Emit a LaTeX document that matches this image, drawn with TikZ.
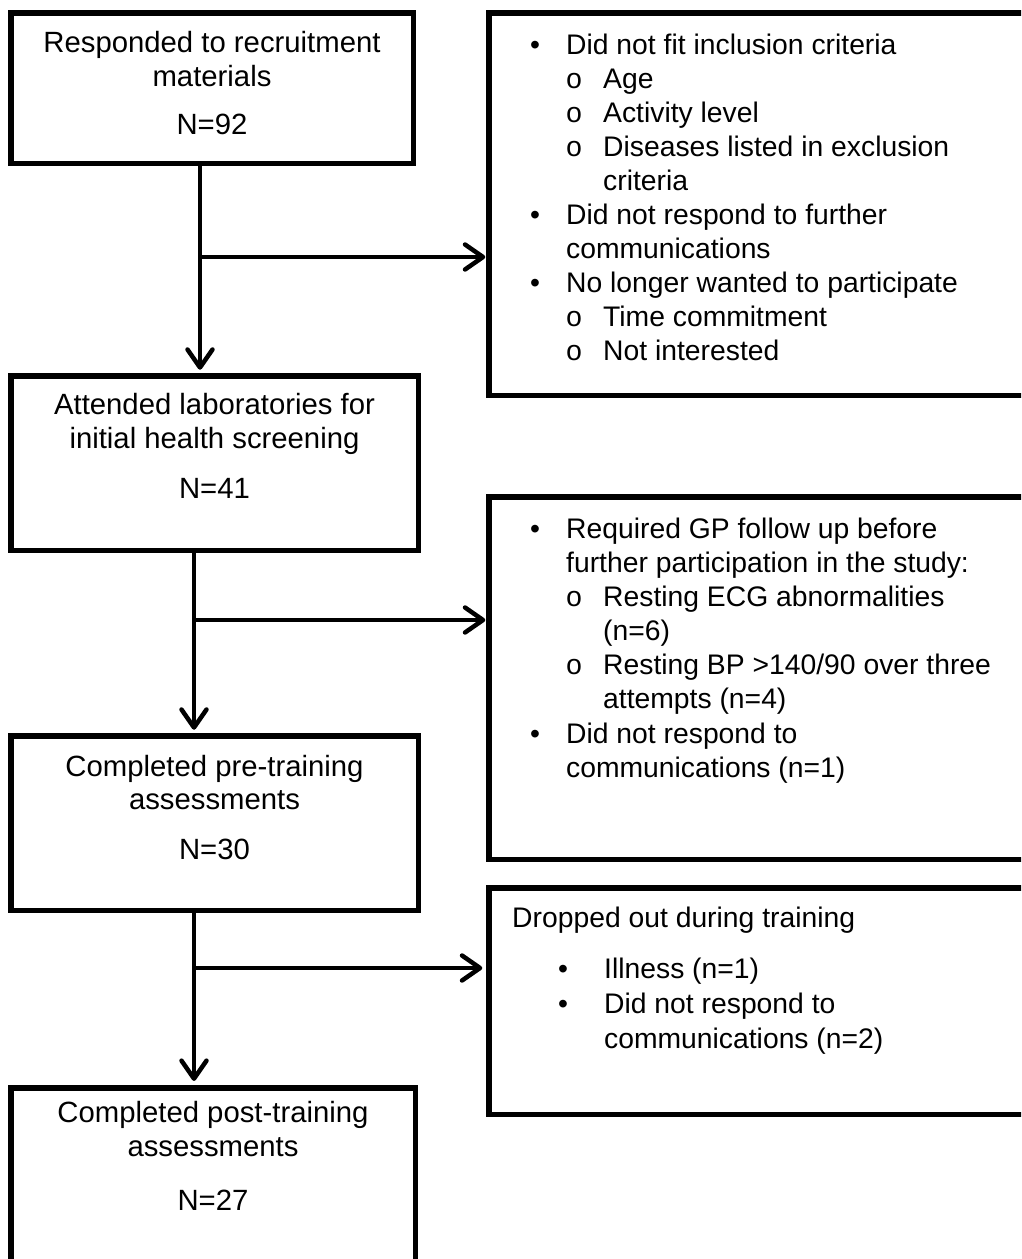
\documentclass[tikz,border=0pt]{standalone}
\usepackage{fontspec}
\setmainfont{Liberation Sans}
\newfontfamily\monofnt{Liberation Mono}
\usetikzlibrary{arrows.meta}
\begin{document}
\begin{tikzpicture}[x=1pt,y=-1pt,
  box/.style={draw, line width=5.5pt, rectangle, inner sep=0pt, outer sep=0pt},
  ctxt/.style={anchor=base, inner sep=0pt, font=\fontsize{29.3}{35}\selectfont},
  ltxt/.style={anchor=base west, inner sep=0pt, font=\fontsize{28.3}{34}\selectfont},
  bul/.style={anchor=base, inner sep=0pt, font=\fontsize{28.3}{34}\selectfont},
  sbul/.style={anchor=base, inner sep=0pt, font=\monofnt\fontsize{28.3}{34}\selectfont},
  arr/.style={line width=4.5pt, -{Straight Barb[length=18pt,width=25pt,round]}}
]
\useasboundingbox (0,0) rectangle (1021,1259);
\fill[white] (0,0) rectangle (1021,1259);
\clip (0,0) rectangle (1021,1259);

% left boxes
\node[box, minimum width=402.5pt, minimum height=150.5pt] (A) at (212,88) {};
\node[box, minimum width=407.5pt, minimum height=174.5pt] (B) at (214.5,463) {};
\node[box, minimum width=407.5pt, minimum height=174.5pt] (C) at (214.5,823) {};
\node[box, minimum width=404.5pt, minimum height=177pt] (D) at (213,1176.4) {};
% right boxes
\node[box, minimum width=541.25pt, minimum height=382.5pt] (R1) at (759.4,204) {};
\node[box, minimum width=541.25pt, minimum height=362.5pt] (R2) at (759.4,678) {};
\node[box, minimum width=541.25pt, minimum height=226.5pt] (R3) at (759.4,1001) {};

% connectors
\coordinate (xA) at (200,0);
\coordinate (xB) at (194,0);
\coordinate (jA) at (200,257);
\coordinate (jB) at (194,620);
\coordinate (jC) at (194,968);
\draw[arr, shorten >=6pt] (A.south -| xA) -- (B.north -| xA);
\draw[arr, shorten >=3.5pt] (jA) -- (R1.west |- jA);
\draw[arr, shorten >=6pt] (B.south -| xB) -- (C.north -| xB);
\draw[arr, shorten >=3.5pt] (jB) -- (R2.west |- jB);
\draw[arr, shorten >=7pt] (C.south -| xB) -- (D.north -| xB);
\draw[arr, shorten >=6.5pt] (jC) -- (R3.west |- jC);

% left texts
\node[ctxt] (tA1) at (212,52) {Responded to recruitment};
\node[ctxt] (tA2) at (212,86) {materials};
\node[ctxt] (tA3) at (212,134) {N=92};
\node[ctxt] (tB1) at (214.5,414) {Attended laboratories for};
\node[ctxt] (tB2) at (214.5,448) {initial health screening};
\node[ctxt] (tB3) at (214.5,498) {N=41};
\node[ctxt] (tC1) at (214.5,776) {Completed pre-training};
\node[ctxt] (tC2) at (214.5,809) {assessments};
\node[ctxt] (tC3) at (214.5,859) {N=30};
\node[ctxt] (tD1) at (213,1122) {Completed post-training};
\node[ctxt] (tD2) at (213,1156) {assessments};
\node[ctxt] (tD3) at (213,1210) {N=27};

% right box 1
\node[bul] (b11) at (535,54) {•};
\node[ltxt] (r11) at (566,54) {Did not fit inclusion criteria};
\node[sbul] (s12) at (574,88) {o};
\node[ltxt] (r12) at (603,88) {Age};
\node[sbul] (s13) at (574,122) {o};
\node[ltxt] (r13) at (603,122) {Activity level};
\node[sbul] (s14) at (574,156) {o};
\node[ltxt] (r14) at (603,156) {Diseases listed in exclusion};
\node[ltxt] (r15) at (603,190) {criteria};
\node[bul] (b16) at (535,224) {•};
\node[ltxt] (r16) at (566,224) {Did not respond to further};
\node[ltxt] (r17) at (566,258) {communications};
\node[bul] (b18) at (535,292) {•};
\node[ltxt] (r18) at (566,292) {No longer wanted to participate};
\node[sbul] (s19) at (574,326) {o};
\node[ltxt] (r19) at (603,326) {Time commitment};
\node[sbul] (s110) at (574,360) {o};
\node[ltxt] (r110) at (603,360) {Not interested};

% right box 2
\node[bul] (b21) at (535,538) {•};
\node[ltxt] (r21) at (566,538) {Required GP follow up before};
\node[ltxt] (r22) at (566,572) {further participation in the study:};
\node[sbul] (s23) at (574,606) {o};
\node[ltxt] (r23) at (603,606) {Resting ECG abnormalities};
\node[ltxt] (r24) at (603,640) {(n=6)};
\node[sbul] (s25) at (574,674) {o};
\node[ltxt] (r25) at (603,674) {Resting BP >140/90 over three};
\node[ltxt] (r26) at (603,708) {attempts (n=4)};
\node[bul] (b27) at (535,743) {•};
\node[ltxt] (r27) at (566,743) {Did not respond to};
\node[ltxt] (r28) at (566,777) {communications (n=1)};

% right box 3
\node[ltxt] (r31) at (512,927) {Dropped out during training};
\node[bul] (b32) at (563,978) {•};
\node[ltxt] (r32) at (604,978) {Illness (n=1)};
\node[bul] (b33) at (563,1013) {•};
\node[ltxt] (r33) at (604,1013) {Did not respond to};
\node[ltxt] (r34) at (604,1048) {communications (n=2)};
\end{tikzpicture}
\end{document}
